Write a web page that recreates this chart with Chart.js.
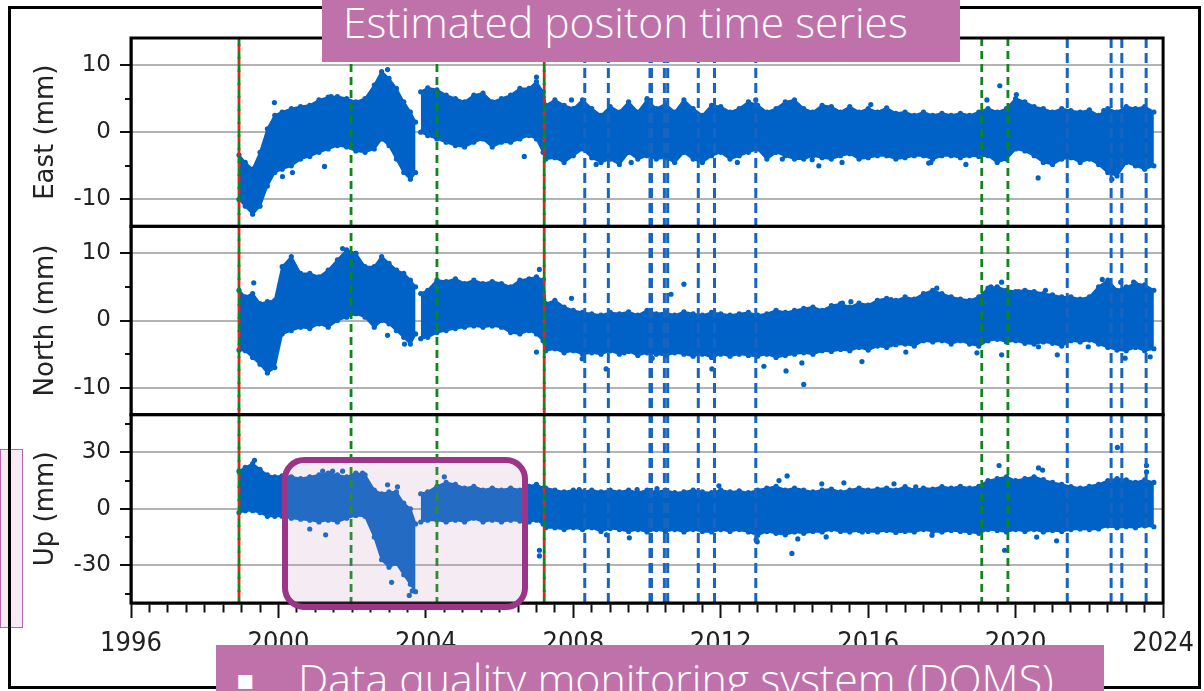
<!DOCTYPE html>
<html>
<head>
<meta charset="utf-8">
<script src="https://cdn.jsdelivr.net/npm/chart.js@4.4.1/dist/chart.umd.min.js"></script>
<style>
html,body{margin:0;padding:0;background:#fff;width:1204px;height:691px;overflow:hidden;position:relative;}
#leftbox{position:absolute;left:0;top:449px;width:23px;height:179px;box-sizing:border-box;border:1px solid #b565a8;background:#f6ebf4;z-index:1;}
#cv{position:absolute;left:0;top:0;z-index:2;}
#frame{position:absolute;left:8px;top:6px;width:1193px;height:683px;box-sizing:border-box;border:3px solid #000;z-index:3;}
#hl{position:absolute;left:282px;top:457px;width:246px;height:153px;box-sizing:border-box;border:6px solid #9c3587;border-radius:22px;background:rgba(200,150,190,0.18);z-index:4;}
#title{position:absolute;left:322px;top:0;width:638px;height:62px;background:#bf72aa;z-index:5;overflow:hidden;}
#bottom{position:absolute;left:216px;top:645px;width:888px;height:60px;background:#bf72aa;z-index:5;overflow:hidden;}
.txt{position:absolute;white-space:nowrap;color:#fff;font-family:"Open Sans",sans-serif;font-weight:300;line-height:1;}
</style>
</head>
<body>
<div id="leftbox"></div>
<canvas id="cv" width="1204" height="691"></canvas>
<div id="frame"></div>
<div id="hl"></div>
<div id="title"><span class="txt" id="titleTxt" style="left:21px;font-size:41px;">Estimated positon time series</span></div>
<div id="bottom"><span class="txt" id="bullet" style="left:20px;top:21px;font-size:28px;font-family:'DejaVu Sans';font-weight:400;">▪</span><span class="txt" id="bottomTxt" style="left:82px;font-size:41px;">Data quality monitoring system (DQMS)</span></div>
<script>
// ---------------- data ----------------
const years = [1998.93,1999.10,1999.30,1999.50,1999.70,1999.90,2000.10,2000.35,2000.60,2000.85,
2001.10,2001.35,2001.60,2001.85,2002.10,2002.35,2002.60,2002.80,2003.00,2003.20,
2003.40,2003.58,2003.72,2003.78,2003.86,2004.05,2004.30,2004.55,2004.80,2005.05,
2005.30,2005.55,2005.80,2006.05,2006.30,2006.55,2006.80,2007.00,2007.18,2007.25,
2007.50,2007.75,
2008.00,2008.25,2008.50,2008.75,2009.00,2009.25,2009.50,2009.75,2010.00,2010.25,
2010.50,2010.75,2011.00,2011.25,2011.50,2011.75,2012.00,2012.25,2012.50,2012.75,
2013.00,2013.25,2013.50,2013.75,2014.00,2014.25,2014.50,2014.75,2015.00,2015.25,
2015.50,2015.75,2016.00,2016.25,2016.50,2016.75,2017.00,2017.25,2017.50,2017.75,
2018.00,2018.25,2018.50,2018.75,2019.00,2019.25,2019.50,2019.75,2020.00,2020.25,
2020.50,2020.75,2021.00,2021.25,2021.50,2021.75,2022.00,2022.25,2022.50,2022.75,
2023.00,2023.25,2023.50,2023.75];

const eastHigh = [-3.4,-4.5,-5.5,-3,0.5,2.5,3,3.5,3.8,4,4.8,5.2,5.3,5,4.5,5,7,9,8,6.5,4.5,3,1.5,null,
6,6.6,6.3,5.5,5,4.5,5.5,5.8,4.5,5,5.5,6.5,6.5,7.5,6,4,4.8,4,
3.5,4.8,3.5,2.5,3.8,3,4.5,3,4.8,3.5,4.2,3,4.8,3.5,2.5,4,3.8,3,3.5,4.5,4,3,3.5,4.5,4.8,3.5,3,4,3.8,3,
3.8,3,3.5,3,3.6,2.8,3,2.5,3,2.5,2.8,2.5,2.8,2.5,3,3.5,3,3.5,5,4.5,3.8,3.5,3,3.5,3.2,3,3.3,2.5,3.5,3,
3.8,3.5,3.8,3];
const eastLow = [-10,-11,-12.2,-11,-8,-6,-5.5,-5,-4,-3.6,-3,-2.5,-2,-2.2,-2.8,-3,-2.5,-1,-2,-4,-6,-7,-6,null,
0,-0.5,-1,-1.5,-2,-2.2,-1.5,-1,-2.2,-1.5,-1.5,-1,-0.5,-1,-3,-4,-3.8,-4.5,
-3.5,-2.5,-3.8,-4.5,-4,-4.8,-3,-4,-3.5,-4,-3.8,-4.5,-3,-4,-4.5,-3.5,-3,-4,-3.5,-3,-2.5,-4,-3,-3.5,-4,-4,-3.5,-3.8,-4,-3.5,
-3.2,-4,-3.8,-3.5,-3.5,-4,-3.8,-3.5,-3.5,-4,-3.5,-3.5,-3.8,-3.5,-3.6,-3.5,-4.5,-4,-2.5,-2.8,-3.5,-4.5,-4.8,-4,-3.8,-4.5,-4,-4.8,-6,-6.5,
-4.5,-5,-5.5,-5];

const northHigh = [4.5,3.5,4,2.5,2.8,3,8,9.5,7,7,6.5,7.5,9,10.5,10,8,8,9.5,8.5,7.5,7,6,5,null,
4,4.5,6,5.8,6.2,5.5,6,5.5,5.8,5.5,5,6,6.2,6.5,6,2.5,3,2,
1.5,1.2,1,0.8,1.2,1,1.3,0.8,1.5,1,1.2,0.8,1.3,1,0.8,1.2,1,0.8,1,1.2,0.8,1,1.5,1.2,1.5,1.8,2,1.5,2.2,2.5,
2,2.6,2.3,3,3.3,3,3.5,3.2,4,4.5,4,3.5,3.2,3,3.5,4.8,5,4.5,4.3,4.5,4.3,4,3.8,3.5,3.5,3.2,3.5,5,6,4.5,
5,5.5,5.3,4.5];
const northLow = [-4.4,-4.5,-5.5,-6.5,-7.8,-7,-2,-1.5,-1,-1.2,-0.5,-1,0,0.5,1,0.5,-1,0,-0.5,-1.5,-2.5,-3.5,-2,null,
-2.7,-2.5,-1.8,-1.5,-1.2,-1,-0.8,-1,-0.8,-1,-1.8,-2,-1.5,-2,-3,-4.5,-4.2,-4.8,
-4.5,-5,-4.8,-5,-4.5,-5,-4.6,-5.2,-4.8,-5,-5.2,-4.8,-5,-5.3,-5,-5.5,-5,-5.3,-5,-5.2,-5.3,-5,-5.5,-5.2,-5,-4.8,-5,-4.5,-4.6,-4.3,
-4.5,-4,-4.4,-3.8,-4,-3.6,-3.5,-3.8,-3,-3.2,-3,-3.5,-3,-3.5,-3.8,-3,-2.8,-3.2,-3,-3.4,-3.5,-3.2,-3.4,-3.8,-3,-3.2,-2.9,-3.5,-4,-4.4,
-4.5,-4,-4.5,-4.2];

const upHigh = [20,22,24,21,18,17,17.5,17,16,17,18,19,18,17,19,18,10,8,9,9,3,0,-8,null,
8,9,12,14,13,11,12,10,11,10,11,10,12,13,11,11,10,9,
10,9,10,9,10,9,10,8.6,10,9,10,8.6,9,10,9,8.6,10,9,9.5,8.6,10,11,12,10,11,10,9,10,10.5,9,
10,11,10,10.5,11,10,11.8,10,11,10.5,11.8,11,12,11,12,15,16,17,15,16,17,15.5,14,13,11.8,11,12,13,15,16,
15.4,14,15.4,14];
const upLow = [-2,-1,-1,-2,-4,-4,-4,-5,-5.5,-6,-7,-6,-7,-5,-3.5,-4,-15,-27,-31,-29,-35,-40,-44,null,
-7,-6,-6,-7,-6,-7,-5,-7,-6,-7,-6,-6.5,-7,-6,-8,-10,-10,-11,
-10,-11,-10,-12,-10.5,-11,-12,-11,-12.3,-11,-12,-11,-12.3,-11,-12,-12.3,-11,-12,-11,-12.3,-14,-12,-13,-13.8,-12.3,-13,-12,-12.3,-11,-12,
-12.3,-11.5,-12,-12.3,-11.5,-12.5,-12,-12.3,-11,-12,-12.3,-11.5,-12,-12.5,-13,-11,-11.5,-12.3,-11,-12,-11,-12.3,-11.5,-12,-11,-10.7,-11,-10.7,-9,-10,
-9.5,-10,-9,-9.5];

// isolated points outside the dense cloud
const eastOutX = [1999.89,2000.11,2000.38,2001.25,2001.43,2002.96,2006.67,2007.00,2007.95,2008.62,2009.57,2010.00,2012.45,2012.95,2013.67,
2014.48,2014.66,2015.29,2016.07,2017.64,2017.70,2018.65,2019.22,2019.57,2020.02,2020.61,2022.39,2022.61,2023.50];
const eastOutY = [4.4,-6.6,-6,-5.1,5.3,9.3,-3.6,8.2,4.8,-4.8,-4.5,5,-4.5,4.8,-4,
-4.1,-5,-4.5,4.1,-4.6,-4.5,-4.8,4.8,6.9,5.6,-6.8,3.2,-7,-5.2];
const northOutX = [1999.33,2001.74,2002.10,2002.96,2003.42,2007.00,2007.08,2007.95,2007.97,2008.24,2008.89,2009.38,2010.14,2010.65,2011.00,2011.76,2013.17,2013.77,
2014.20,2014.25,2015.30,2015.53,2015.83,2016.62,2017.02,2017.86,2018.95,2019.33,2019.62,2019.62,2020.08,2020.62,2020.81,2021.13,2021.97,2022.35,2022.85,2022.97,2023.20,2023.65];
const northOutY = [5.6,10.7,10,-2.2,-3.5,-4.7,7.6,3.3,-3.5,-5.7,-7.2,-4.8,-5.6,3.9,5.4,-7.2,-6.8,-7.5,
-6.3,-9.5,2.6,2.8,-6.1,3.1,-4.7,4.8,-4.8,5,5.7,-5.1,4.3,-3.9,4.5,-5.1,-3.9,6.1,5.7,-5.6,5.7,-5.4];
const upOutX = [1999.35,2000.85,2001.20,2001.28,2001.47,2001.74,2002.28,2002.96,2003.00,2003.07,2003.23,2003.55,2003.63,2004.50,2007.08,2007.08,
2008.16,2008.90,2009.52,2009.73,2010.27,2011.95,2012.58,2012.96,2012.99,2013.58,2013.80,2013.93,2014.09,2014.74,2014.86,2015.34,2015.84,2016.70,2017.29,
2017.73,2019.55,2019.70,2020.57,2020.62,2020.73,2021.11,2022.76,2023.55,2023.55];
const upOutY = [25.8,-10.7,20,-13.8,20,20,19,12.8,-27,-39,11.7,-46,-43.6,17,-22,-25,
10.2,-13.8,-15.4,10.2,10.7,12.2,-10.7,-16.4,-17.5,15,17.5,-23.7,-16,13.3,-14.9,13.8,-12.3,13.3,11.7,
-14,23,-22,-15,21.7,20.6,-17,32.6,23,19.6];

// event (offset) epochs drawn as dashed vertical lines
const redEvents = [1998.93, 2007.21];
const greenEvents = [1998.93, 2001.97, 2004.30, 2007.21, 2019.08, 2019.79];
const blueEvents = [2008.31, 2008.95, 2010.08, 2010.12, 2010.47, 2010.56, 2011.39, 2011.83, 2012.95, 2021.40, 2022.59, 2022.88, 2023.54];

// axes
const xMin = 1996, xMax = 2024, xMinorStep = 0.5, xLabelStep = 4;
const eastRange = [-14, 14], northRange = [-14, 14], upRange = [-50, 50];
const eastStep = 5, northStep = 5, upStep = 15;
const eastLabelStep = 10, northLabelStep = 10, upLabelStep = 30;

// ---------------- chart ----------------
const BLUE = '#0062c6';
function pts(xs, ys) { return xs.map((x, i) => ({x: x, y: ys[i]})); }
function band(hi, lo, axis) {
  const common = {yAxisID: axis, borderColor: BLUE, backgroundColor: BLUE, borderWidth: 2,
    pointRadius: 2.6, pointBorderWidth: 0, pointBackgroundColor: BLUE, pointHoverRadius: 0,
    tension: 0, spanGaps: false, order: 2};
  return [
    Object.assign({data: pts(years, hi), fill: false}, common),
    Object.assign({data: pts(years, lo), fill: '-1'}, common)
  ];
}
function outliers(xs, ys, axis) {
  return {type: 'scatter', data: pts(xs, ys), yAxisID: axis, showLine: false,
    pointRadius: 2.6, pointBorderWidth: 0, backgroundColor: BLUE, pointBackgroundColor: BLUE, order: 1};
}
const isMult = (v, s) => Math.abs(v / s - Math.round(v / s)) < 1e-6;

function yAxis(range, step, labelStep, title) {
  return {
    type: 'linear', position: 'left', stack: 'panels', stackWeight: 1,
    min: range[0], max: range[1],
    afterFit: s => { s.width = 131; },
    ticks: {stepSize: step, includeBounds: false, autoSkip: false, padding: 9, color: '#222',
      font: {family: 'DejaVu Sans', size: 23},
      callback: v => isMult(v, labelStep) ? String(v) : ''},
    grid: {
      color: c => (c.tick && isMult(c.tick.value, labelStep)) ? '#b3b3b3' : 'rgba(0,0,0,0)',
      lineWidth: 2, tickLength: 11, tickColor: '#111', tickWidth: 2,
      tickBorderDash: c => (c.tick && isMult(c.tick.value, labelStep)) ? [] : [6, 100],
      tickBorderDashOffset: c => (c.tick && isMult(c.tick.value, labelStep)) ? 0 : 101
    },
    border: {display: true, color: '#000', width: 2.5},
    title: {display: true, text: title, color: '#222', font: {family: 'DejaVu Sans', size: 26}, padding: {top: 31, bottom: 0}}
  };
}

const eventLines = {
  id: 'eventLines',
  afterDatasetsDraw(chart) {
    const {ctx, chartArea: a, scales: {x}} = chart;
    ctx.save();
    ctx.beginPath(); ctx.rect(a.left, a.top, a.width, a.height); ctx.clip();
    const draw = (vals, color, dash, off, w) => {
      ctx.strokeStyle = color; ctx.lineWidth = w; ctx.setLineDash(dash); ctx.lineDashOffset = off;
      vals.forEach(v => {
        const px = x.getPixelForValue(v);
        ctx.beginPath(); ctx.moveTo(px, a.top); ctx.lineTo(px, a.bottom); ctx.stroke();
      });
    };
    draw(redEvents, '#e3241b', [7, 6], 7, 2.8);
    draw(greenEvents, '#10861a', [8, 5], 0, 2.8);
    draw(blueEvents, '#1765c0', [10, 5], 0, 3);
    ctx.restore();
  }
};
const panelFrames = {
  id: 'panelFrames',
  afterDraw(chart) {
    const {ctx, chartArea: a} = chart;
    ctx.save();
    ctx.strokeStyle = '#000'; ctx.lineWidth = 3; ctx.setLineDash([]);
    ['yE', 'yN', 'yU'].forEach(id => {
      const s = chart.scales[id];
      ctx.strokeRect(a.left, s.top, a.width, s.bottom - s.top);
    });
    ctx.restore();
  }
};

new Chart(document.getElementById('cv'), {
  type: 'line',
  data: {datasets: [
    ...band(eastHigh, eastLow, 'yE'), outliers(eastOutX, eastOutY, 'yE'),
    ...band(northHigh, northLow, 'yN'), outliers(northOutX, northOutY, 'yN'),
    ...band(upHigh, upLow, 'yU'), outliers(upOutX, upOutY, 'yU')
  ]},
  options: {
    responsive: false, animation: false, events: [], devicePixelRatio: 1,
    layout: {padding: {top: 38, right: 40, bottom: 0, left: 0}},
    plugins: {legend: {display: false}, tooltip: {enabled: false}},
    scales: {
      x: {
        type: 'linear', position: 'bottom', min: xMin, max: xMax,
        afterFit: s => { s.height = 88; },
        ticks: {stepSize: xMinorStep, autoSkip: false, maxRotation: 0, includeBounds: false, padding: 10, color: '#222',
          font: {family: '"DejaVu Sans Condensed", sans-serif', size: 27},
          callback: v => isMult(v, xLabelStep) ? String(v) : ''},
        grid: {drawOnChartArea: false, tickLength: 15, tickWidth: 2, tickColor: '#111',
          tickBorderDash: c => (c.tick && isMult(c.tick.value, xLabelStep)) ? [] : [8, 100]},
        border: {display: true, color: '#000', width: 2.5}
      },
      yU: yAxis(upRange, upStep, upLabelStep, 'Up (mm)'),
      yN: yAxis(northRange, northStep, northLabelStep, 'North (mm)'),
      yE: yAxis(eastRange, eastStep, eastLabelStep, 'East (mm)')
    }
  },
  plugins: [eventLines, panelFrames]
});

// fit slide texts to the widths seen in the reference
function fit(id, target, baseline) {
  const el = document.getElementById(id);
  const fs = parseFloat(getComputedStyle(el).fontSize);
  const w = el.getBoundingClientRect().width;
  const nfs = fs * target / w;
  el.style.fontSize = nfs + 'px';
  el.style.top = (baseline - 0.888 * nfs) + 'px';
}
fit('titleTxt', 565, 39);
fit('bottomTxt', 756, 51);
</script>
</body>
</html>
